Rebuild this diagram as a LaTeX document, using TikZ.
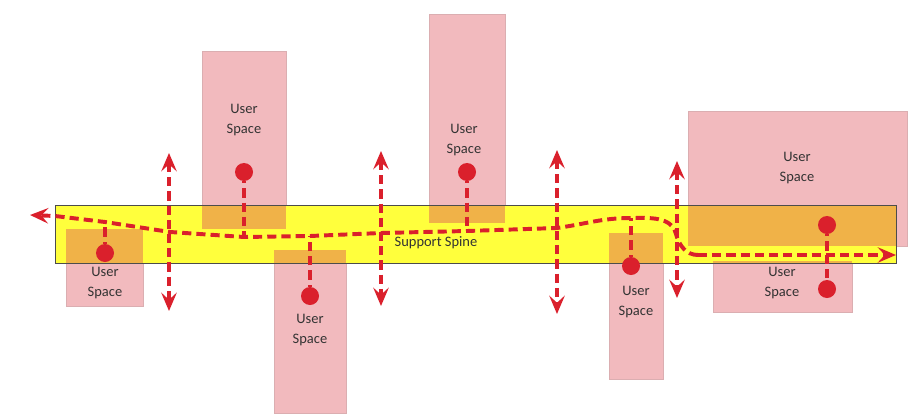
\documentclass[tikz,border=0pt]{standalone}
\usepackage{fontspec}
\setmainfont{Carlito}
\usetikzlibrary{arrows.meta}
\definecolor{spacepink}{RGB}{242,186,190}
\definecolor{spineyellow}{RGB}{255,255,60}
\definecolor{overlap}{RGB}{240,178,72}
\definecolor{routered}{RGB}{218,32,44}
\begin{document}
\begin{tikzpicture}[x=0.025cm, y=-0.025cm,
    space/.style ={rectangle, fill=spacepink, draw=spacepink!80!gray, very thin, inner sep=0pt, outer sep=0pt},
    spine/.style ={rectangle, fill=spineyellow, inner sep=0pt, outer sep=0pt},
    label/.style ={font=\fontsize{10.3}{14}\selectfont, text=black!80, align=center},
    dot/.style ={circle, fill=routered, inner sep=0pt, minimum size=0.45cm},
    route/.style ={draw=routered, line width=2.8pt, dash pattern=on 6.5pt off 3.6pt,
      arrows={-Stealth[length=13pt, width=11pt, inset=5pt]}},
    both/.style ={arrows={Stealth[length=13pt, width=11pt, inset=5pt]-Stealth[length=13pt, width=11pt, inset=5pt]}}]
   \useasboundingbox (0,0) rectangle (922,414);

   % user spaces
   \node[space, minimum width=1.925cm, minimum height=1.925cm] (S1) at (104.5,267.5) {};
   \node[space, minimum width=2.1cm, minimum height=4.45cm] (S2) at (244,140) {};
   \node[space, minimum width=1.8cm, minimum height=4.075cm] (S3) at (310,331.5) {};
   \node[space, minimum width=1.9cm, minimum height=5.225cm] (S4) at (467,118.5) {};
   \node[space, minimum width=1.35cm, minimum height=3.65cm] (S5) at (636,306) {};
   \node[space, minimum width=5.475cm, minimum height=3.375cm] (S6) at (797.5,178.5) {};
   \node[space, minimum width=3.475cm, minimum height=1.275cm] (S7) at (782.5,286.5) {};

   % support spine
   \node[spine, minimum width=21.025cm, minimum height=1.45cm] (SP) at (475.5,234.5) {};
   \begin{scope}
     \clip (SP.south west) rectangle (SP.north east);
     \foreach \s in {S1,S2,S3,S4,S5,S6,S7}
       \fill[overlap] (\s.south west) rectangle (\s.north east);
   \end{scope}
   \draw[black!70, thin] (SP.south west) rectangle (SP.north east);

   \node[label] (T1) at (105,283) {User\\Space};
   \node[label] (T2) at (244,120) {User\\Space};
   \node[label] (T3) at (310,330) {User\\Space};
   \node[label] (T4) at (464,140) {User\\Space};
   \node[label] (T5) at (636,302) {User\\Space};
   \node[label] (T6) at (797,168) {User\\Space};
   \node[label] (T7) at (782,283) {User\\Space};
   \node[label] (TS) at (436,243) {Support Spine};

   % route along the spine
   \coordinate (L) at (30,215);
   \coordinate (A) at (55,216);
   \coordinate (B) at (105,222);
   \coordinate (C) at (170,232);
   \coordinate (E) at (244,237);
   \coordinate (F) at (310,236);
   \coordinate (G) at (381,233);
   \coordinate (H) at (467,231);
   \coordinate (I) at (557,228);
   \coordinate (K) at (631,218);
   \coordinate (M) at (676,234);
   \coordinate (N) at (698,255);
   \coordinate (Q) at (827,255);
   \coordinate (R) at (896,255);

   \draw[route] (N) -- (Q) -- (R);
   \draw[route] (N) to[out=180, in=-75] (M) to[out=105, in=0] (K)
     to[out=180, in=8] (I) -- (H) -- (G) -- (F) -- (E) -- (C) -- (B) -- (A) -- (L);

   % dots and their stubs
   \node[dot] (D1) at (105,253) {};
   \node[dot] (D2) at (244,172) {};
   \node[dot] (D3) at (310,296) {};
   \node[dot] (D4) at (467,172) {};
   \node[dot] (D5) at (631,266) {};
   \node[dot] (D6) at (827,225) {};
   \node[dot] (D7) at (827,289) {};

   \draw[route, arrows=-, dash phase=5pt] (D1) to (B);
   \draw[route, arrows=-, dash phase=5pt] (D2) to (E);
   \draw[route, arrows=-, dash phase=5pt] (D3) to (F);
   \draw[route, arrows=-, dash phase=5pt] (D4) to (H);
   \draw[route, arrows=-, dash phase=5pt] (D5) to (K);
   \draw[route, arrows=-, dash phase=5pt] (D6) to (Q);
   \draw[route, arrows=-] (Q) to (D7);

   % growth directions
   \coordinate (V1t) at (169,153);
   \coordinate (V1b) at (169,311);
   \coordinate (V2t) at (381,151);
   \coordinate (V2b) at (381,306);
   \coordinate (V3t) at (557,150);
   \coordinate (V3b) at (557,314);
   \coordinate (V4t) at (677,161);
   \coordinate (V4b) at (677,298);

   \draw[route, both] (V1t) to (V1b);
   \draw[route, both] (V2t) to (V2b);
   \draw[route, both] (V3t) to (V3b);
   \draw[route, both] (V4t) to (V4b);
 \end{tikzpicture}
\end{document}
